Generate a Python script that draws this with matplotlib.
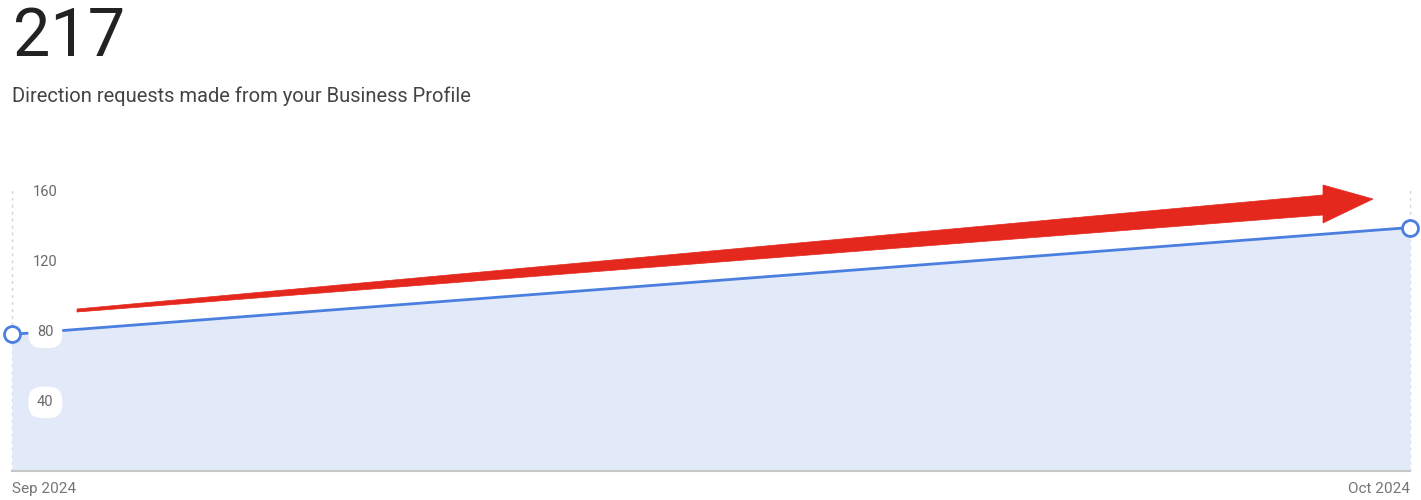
import matplotlib.pyplot as plt
from matplotlib.patches import Polygon

plt.rcParams['font.family'] = ['Roboto', 'DejaVu Sans']

# data
months = ['Sep 2024', 'Oct 2024']
requests = [78, 139]
total = '217'
y_ticks = [40, 80, 120, 160]

W, H = 1421, 500
fig = plt.figure(figsize=(W / 100, H / 100), dpi=100)

# plot area in pixels: left 12, right 1410, top 189, bottom 471
ax = fig.add_axes([12 / W, 1 - 471 / H, (1410 - 12) / W, (471 - 189) / H])
ax.set_axisbelow(False)  # tick labels above the line

x = list(range(len(months)))
line_c = '#4a7fdf'
ax.fill_between(x, requests, 0, color='#e2e9f8', lw=0, zorder=1)
ax.plot(x, requests, color=line_c, lw=2, zorder=2)
ax.plot(x, requests, 'o', ms=11.5, mfc='white', mec=line_c, mew=2,
        clip_on=False, zorder=4)

ax.set_xlim(0, 1)
ax.set_ylim(0, 161)

for xv in x:
    ax.axvline(xv, color='#d2d2d2', lw=1, ls=(0, (2, 3)), zorder=0.5, clip_on=False)

for s in ['top', 'right', 'left']:
    ax.spines[s].set_visible(False)
ax.spines['bottom'].set_color('#c6c6c6')
ax.spines['bottom'].set_linewidth(1.5)

ax.set_yticks(y_ticks)
ax.set_yticklabels([str(v) for v in y_ticks])
ax.tick_params(axis='y', length=0, pad=-24, labelsize=10.5, labelcolor='#6a6a6a')
for lab in ax.get_yticklabels():
    lab.set_horizontalalignment('center')
    lab.set_bbox(dict(boxstyle='round,pad=0.6,rounding_size=0.95', fc='white', ec='none'))

ax.set_xticks(x)
ax.set_xticklabels(months)
ax.tick_params(axis='x', length=0, pad=8, labelsize=11, labelcolor='#757575')
xl = ax.get_xticklabels()
xl[0].set_horizontalalignment('left')
xl[-1].set_horizontalalignment('right')

# header texts
fig.text(13 / W, 1 - 6 / H, total, fontsize=48, color='#222222', va='top', ha='left')
fig.text(12 / W, 1 - 96 / H, 'Direction requests made from your Business Profile',
         fontsize=14.5, color='#444444', va='center', ha='left')

# hand-drawn red trend arrow (pixel outline)
pts = [(77, 309), (1323, 195), (1323, 185), (1373, 199),
       (1323, 223), (1323, 215), (77, 312)]
arrow = Polygon([(px / W, 1 - py / H) for px, py in pts], closed=True,
                transform=fig.transFigure, fc='#e5281e', ec='#e5281e', lw=0.5,
                zorder=5)
fig.patches.append(arrow)

fig.savefig('out.png', dpi=100)
